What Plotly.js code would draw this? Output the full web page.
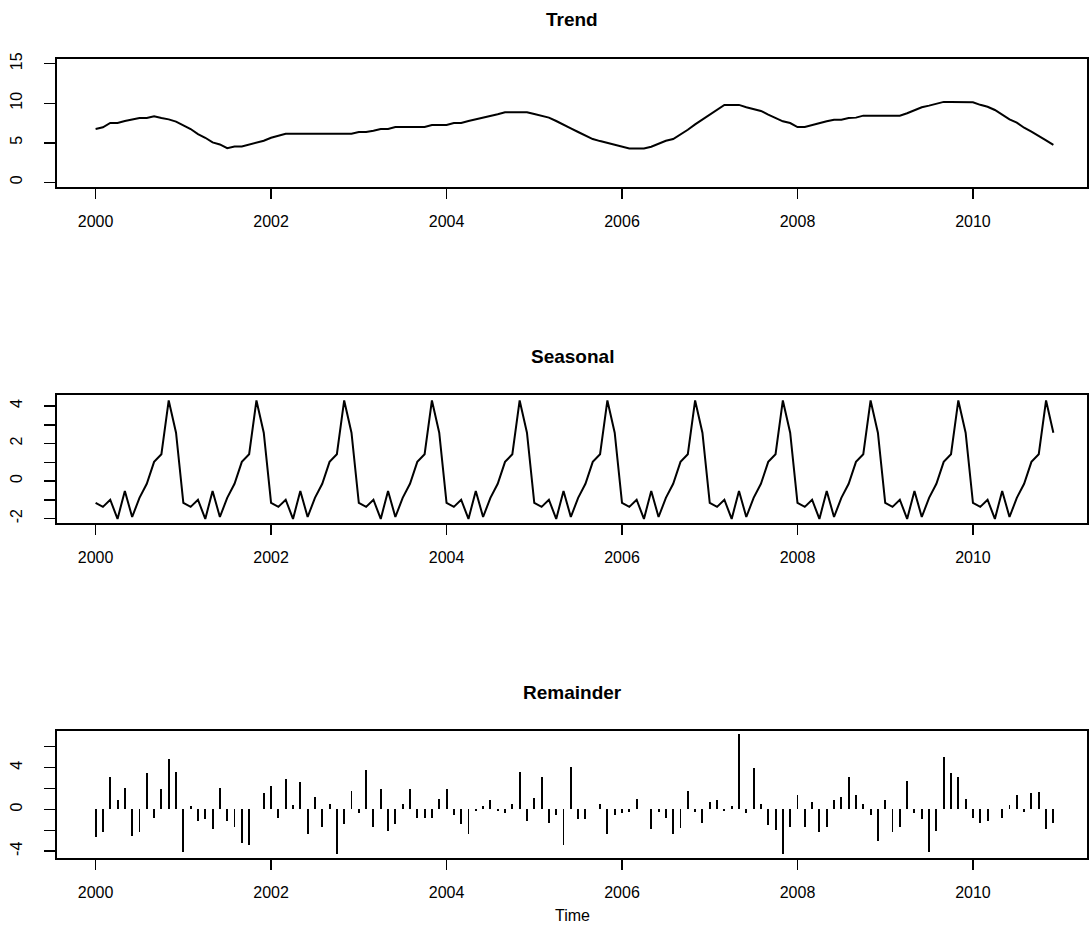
<!DOCTYPE html>
<html>
<head>
<meta charset="utf-8">
<script src="https://cdn.plot.ly/plotly-3.0.1.min.js"></script>
<style>html,body{margin:0;padding:0;background:#fff;}#chart{width:1090px;height:950px;}</style>
</head>
<body>
<div id="chart"></div>
<script>
// Monthly series, start 2000, frequency 12
const startYear = 2000;
const frequency = 12;

const panelTitles = ["Trend", "Seasonal", "Remainder"];
const xAxisTitle = "Time";
const xTickVals = [2000, 2002, 2004, 2006, 2008, 2010];

const trend = [
  6.74, 6.95, 7.50, 7.50, 7.75, 7.92, 8.13, 8.13, 8.35, 8.13, 7.96, 7.67,
  7.16, 6.74, 6.10, 5.63, 5.04, 4.79, 4.32, 4.53, 4.53, 4.79, 5.00, 5.25,
  5.63, 5.89, 6.14, 6.14, 6.14, 6.14, 6.14, 6.14, 6.14, 6.14, 6.14, 6.14,
  6.36, 6.36, 6.52, 6.74, 6.74, 6.99, 6.99, 6.99, 6.99, 6.99, 7.25, 7.25,
  7.25, 7.50, 7.50, 7.75, 7.96, 8.10, 8.39, 8.60, 8.86, 8.86, 8.86, 8.86,
  8.64, 8.43, 8.18, 7.75, 7.33, 6.82, 6.36, 5.89, 5.47, 5.21, 5.00, 4.75,
  4.53, 4.28, 4.28, 4.28, 4.49, 4.83, 5.25, 5.47, 6.02, 6.65, 7.33, 7.92,
  8.60, 9.19, 9.79, 9.79, 9.79, 9.49, 9.28, 9.03, 8.56, 8.10, 7.71, 7.50,
  6.99, 6.99, 7.25, 7.50, 7.71, 7.92, 7.92, 8.13, 8.18, 8.43, 8.43, 8.43,
  8.43, 8.43, 8.43, 8.73, 9.11, 9.49, 9.70, 9.91, 10.17, 10.17, 10.17, 10.17,
  10.12, 9.80, 9.55, 9.15, 8.50, 7.95, 7.55, 6.90, 6.40, 5.90, 5.30, 4.72
];

const seasonal = [
  -1.16, -1.38, -1.00, -2.02, -0.53, -1.92, -0.90, -0.15, 1.02, 1.43, 4.30, 2.58,
  -1.16, -1.38, -1.00, -2.02, -0.53, -1.92, -0.90, -0.15, 1.02, 1.43, 4.30, 2.58,
  -1.16, -1.38, -1.00, -2.02, -0.53, -1.92, -0.90, -0.15, 1.02, 1.43, 4.30, 2.58,
  -1.16, -1.38, -1.00, -2.02, -0.53, -1.92, -0.90, -0.15, 1.02, 1.43, 4.30, 2.58,
  -1.16, -1.38, -1.00, -2.02, -0.53, -1.92, -0.90, -0.15, 1.02, 1.43, 4.30, 2.58,
  -1.16, -1.38, -1.00, -2.02, -0.53, -1.92, -0.90, -0.15, 1.02, 1.43, 4.30, 2.58,
  -1.16, -1.38, -1.00, -2.02, -0.53, -1.92, -0.90, -0.15, 1.02, 1.43, 4.30, 2.58,
  -1.16, -1.38, -1.00, -2.02, -0.53, -1.92, -0.90, -0.15, 1.02, 1.43, 4.30, 2.58,
  -1.16, -1.38, -1.00, -2.02, -0.53, -1.92, -0.90, -0.15, 1.02, 1.43, 4.30, 2.58,
  -1.16, -1.38, -1.00, -2.02, -0.53, -1.92, -0.90, -0.15, 1.02, 1.43, 4.30, 2.58,
  -1.16, -1.38, -1.00, -2.02, -0.53, -1.92, -0.90, -0.15, 1.02, 1.43, 4.30, 2.58
];

const remainder = [
  -2.66, -2.18, 3.11, 0.87, 2.08, -2.50, -2.18, 3.46, -0.80, 1.92, 4.81, 3.62,
  -4.07, 0.32, -1.12, -0.96, -1.86, 2.08, -1.12, -1.67, -3.20, -3.37, 0.00, 1.60,
  2.24, -0.80, 2.95, 0.38, 2.63, -2.31, 1.22, -1.67, 0.51, -4.23, -1.44, 1.73,
  -0.38, 3.78, -1.67, 1.92, -2.08, -1.44, 0.48, 1.92, -0.80, -0.80, -0.80, 1.03,
  1.92, -0.58, -1.44, -2.31, -0.20, 0.32, 0.87, -0.20, -0.38, 0.48, 3.59, -1.12,
  1.06, 3.11, -1.28, -0.58, -3.37, 4.10, -0.96, -0.96, 0.00, 0.48, -2.31, -0.58,
  -0.38, -0.25, 1.03, 0.00, -1.92, -0.25, -0.80, -2.31, -1.76, 1.73, -0.25, -1.28,
  0.70, 0.87, -0.20, 0.32, 7.21, -0.38, 3.94, 0.54, -1.47, -1.99, -4.23, -1.67,
  1.38, -1.67, 0.74, -2.18, -1.67, 0.87, 1.22, 3.11, 1.38, 0.51, -0.58, -2.98,
  0.87, -2.18, -1.67, 2.72, -0.38, -0.96, -4.07, -2.08, 4.97, 3.46, 3.11, 1.03,
  -0.80, -1.28, -1.12, 0.00, -0.80, 0.38, 1.35, -0.22, 1.54, 1.67, -1.92, -1.28
];

const trendTicks = [0, 5, 10, 15];
const trendTickText = ["0", "5", "10", "15"];
const seasonalTicks = [-2, -1, 0, 1, 2, 3, 4];
const seasonalTickText = ["-2", "", "0", "", "2", "", "4"];
const remainderTicks = [-4, -2, 0, 2, 4, 6];
const remainderTickText = ["-4", "", "0", "", "4", ""];

const time = trend.map((_, i) => startYear + i / frequency);

const FONT = "Liberation Sans, Arial, Helvetica, sans-serif";
const W = 1090, H = 950;
const py = px => 1 - px / H;

const xRange = [1999.56, 2011.30];

function xaxis(anchor) {
  return {
    anchor: anchor,
    range: xRange,
    tickmode: "array",
    tickvals: xTickVals,
    ticktext: xTickVals.map(String),
    ticks: "outside",
    ticklen: 10,
    tickwidth: 1.5,
    tickcolor: "#000",
    ticklabelstandoff: 9,
    showline: true,
    linecolor: "#000",
    linewidth: 2,
    mirror: true,
    showgrid: false,
    zeroline: false,
    tickfont: {family: FONT, size: 16, color: "#000"},
    fixedrange: true
  };
}
function yaxis(anchor, domain, range, vals, text) {
  return {
    anchor: anchor,
    domain: domain,
    range: range,
    tickmode: "array",
    tickvals: vals,
    ticktext: text,
    tickangle: -90,
    ticks: "outside",
    ticklen: 11,
    tickwidth: 1.5,
    tickcolor: "#000",
    ticklabelstandoff: 16,
    showline: true,
    linecolor: "#000",
    linewidth: 2,
    mirror: true,
    showgrid: false,
    zeroline: false,
    tickfont: {family: FONT, size: 16, color: "#000"},
    fixedrange: true
  };
}

const traces = [
  {x: time, y: trend, type: "scatter", mode: "lines", xaxis: "x", yaxis: "y",
   line: {color: "#000", width: 2}, hoverinfo: "skip"},
  {x: time, y: seasonal, type: "scatter", mode: "lines", xaxis: "x2", yaxis: "y2",
   line: {color: "#000", width: 2}, hoverinfo: "skip"},
  {x: time, y: remainder, type: "bar", base: 0, width: 0.022, xaxis: "x3", yaxis: "y3",
   marker: {color: "#000", line: {width: 0}}, hoverinfo: "skip"}
];

const titleFont = {family: FONT, size: 19, color: "#000"};

const layout = {
  width: W, height: H,
  margin: {l: 57, r: 3, t: 0, b: 0},
  paper_bgcolor: "#fff",
  plot_bgcolor: "#fff",
  showlegend: false,
  bargap: 0,
  xaxis: xaxis("y"),
  xaxis2: xaxis("y2"),
  xaxis3: xaxis("y3"),
  yaxis: yaxis("x", [py(187), py(59)], [-0.6, 15.6], trendTicks, trendTickText),
  yaxis2: yaxis("x2", [py(523), py(395)], [-2.24, 4.59], seasonalTicks, seasonalTickText),
  yaxis3: yaxis("x3", [py(858), py(731)], [-4.65, 7.5], remainderTicks, remainderTickText),
  annotations: [
    {text: "<b>" + panelTitles[0] + "</b>", xref: "paper", yref: "paper", x: 0.5, y: py(20),
     xanchor: "center", yanchor: "middle", showarrow: false, font: titleFont},
    {text: "<b>" + panelTitles[1] + "</b>", xref: "paper", yref: "paper", x: 0.5, y: py(356),
     xanchor: "center", yanchor: "middle", showarrow: false, font: titleFont},
    {text: "<b>" + panelTitles[2] + "</b>", xref: "paper", yref: "paper", x: 0.5, y: py(692),
     xanchor: "center", yanchor: "middle", showarrow: false, font: titleFont},
    {text: xAxisTitle, xref: "paper", yref: "paper", x: 0.5, y: py(915),
     xanchor: "center", yanchor: "middle", showarrow: false, font: {family: FONT, size: 16, color: "#000"}}
  ]
};

Plotly.newPlot("chart", traces, layout, {displayModeBar: false, staticPlot: true});
</script>
</body>
</html>
